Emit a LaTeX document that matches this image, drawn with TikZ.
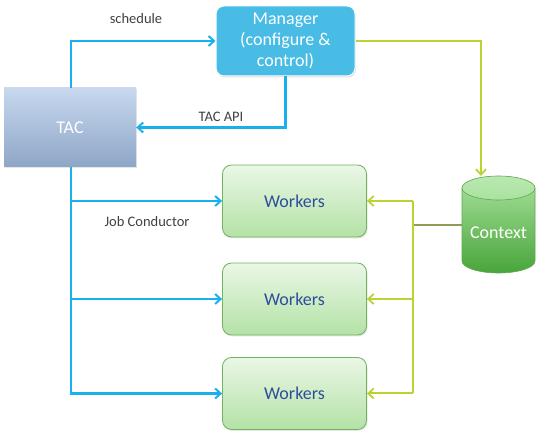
\documentclass[tikz,border=0pt]{standalone}
\usepackage{fontspec}
\setmainfont{Carlito}
\usetikzlibrary{arrows.meta,shadows,calc}
\definecolor{lineblue}{HTML}{1AB0EC}
\definecolor{linegreen}{HTML}{B7D433}
\definecolor{linedark}{HTML}{8E9C58}
\definecolor{mgrfill}{HTML}{48BCE4}
\definecolor{tactop}{HTML}{C7D8EF}
\definecolor{tacbot}{HTML}{8EA6C6}
\definecolor{wtop}{HTML}{EAF7E6}
\definecolor{wbot}{HTML}{B4E2A6}
\definecolor{wdraw}{HTML}{73B15E}
\definecolor{wtext}{HTML}{2D4E9B}
\definecolor{ctop}{HTML}{A9E29E}
\definecolor{cbot}{HTML}{48A53A}
\definecolor{cdraw}{HTML}{5EA84F}
\definecolor{labeltext}{HTML}{404040}
\tikzset{
  bigfont/.style={font=\fontsize{18}{21}\selectfont},
  mgrbox/.style={bigfont, rectangle, rounded corners=8pt, fill=mgrfill, draw=white, line width=1pt,
    text=white, align=center, minimum width=139pt, minimum height=70pt, inner sep=0pt,
    drop shadow={opacity=0.25, shadow xshift=1pt, shadow yshift=-1.5pt}},
  tacbox/.style={bigfont, rectangle, top color=tactop, bottom color=tacbot, text=white,
    minimum width=132pt, minimum height=79pt, inner sep=0pt,
    drop shadow={opacity=0.2, shadow xshift=1pt, shadow yshift=-1pt}},
  workbox/.style={bigfont, rectangle, rounded corners=9pt, top color=wtop, bottom color=wbot,
    draw=wdraw, line width=0.8pt, text=wtext, minimum width=144pt, minimum height=72pt, inner sep=0pt,
    drop shadow={opacity=0.2, shadow xshift=1pt, shadow yshift=-1.5pt}},
  lbl/.style={font=\fontsize{14.5}{17}\selectfont, text=labeltext, inner sep=0pt},
  bline/.style={draw=lineblue, line width=2.4pt},
  barrow/.style={bline, -{Straight Barb[length=5.5pt,width=10pt,line width=2pt]}},
  gline/.style={draw=linegreen, line width=2pt},
  garrow/.style={gline, -{Straight Barb[length=5.5pt,width=10pt,line width=1.8pt]}},
}
\begin{document}
\begin{tikzpicture}[x=1pt,y=-1pt]
\useasboundingbox (0,0) rectangle (541,435);
% nodes
\node[mgrbox] (mgr) at (285.5,41) {Manager\\(configure \&\\control)};
\node[tacbox] (tac) at (70,127.5) {TAC};
\node[workbox] (w1) at (294.5,201) {Workers};
\node[workbox] (w2) at (294.5,299) {Workers};
\node[workbox] (w3) at (294.5,393.5) {Workers};
% context cylinder
\shade[top color=ctop, bottom color=cbot]
  (462,188) -- (462,261) arc[start angle=180, end angle=0, x radius=36.5, y radius=12]
  -- (535,188) arc[start angle=360, end angle=180, x radius=36.5, y radius=12] -- cycle;
\draw[cdraw, line width=0.6pt]
  (462,188) -- (462,261) arc[start angle=180, end angle=0, x radius=36.5, y radius=12] -- (535,188);
\shade[top color=ctop!80!white, bottom color=ctop, draw=cdraw, line width=0.6pt]
  (498.5,188) ellipse[x radius=36.5, y radius=12];
\node[inner sep=0pt, minimum width=73pt, minimum height=73pt] (ctx) at (498.5,225) {};
\node[bigfont, text=white, inner sep=0pt] (ctxtext) at (498.5,233) {Context};
% labels
\node[lbl] (lsched) at (136,19) {schedule};
\node[lbl] (lapi) at (221,117) {TAC API};
\node[lbl] (ljob) at (147,222) {Job Conductor};
% blue connectors
\draw[barrow] (tac.north -| 71,0) |- (mgr.west);
\draw[barrow] (mgr.south) |- (tac.east);
\coordinate (tb) at (71,167);
\draw[bline] (tb) -- (tb |- w3.west);
\draw[barrow] (tb) |- (w1.west);
\draw[barrow] (tb) |- (w2.west);
\draw[barrow] (tb) |- (w3.west);
% green connectors
\coordinate (ctop) at (481,176);
\draw[garrow] (mgr.east) -| (ctop);
\coordinate (j) at (413,225);
\draw[draw=linedark, line width=2pt] (ctx.west) -- (j);
\draw[gline] (j) -- (j |- w3.east);
\draw[gline] (j) -- (j |- w1.east);
\draw[garrow] (j |- w1.east) -- (w1.east);
\draw[garrow] (j |- w2.east) -- (w2.east);
\draw[garrow] (j |- w3.east) -- (w3.east);
\end{tikzpicture}
\end{document}
